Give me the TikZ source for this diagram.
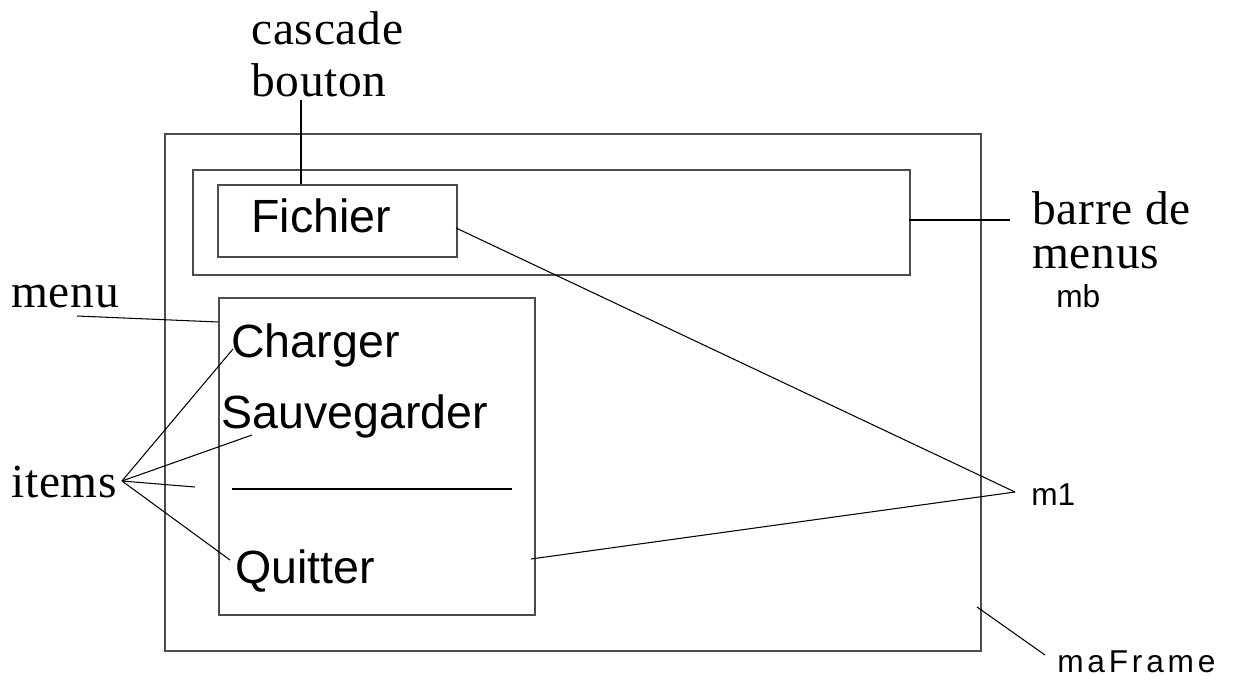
\documentclass[tikz,border=0pt]{standalone}
\usepackage{fontspec}
\setmainfont{Liberation Serif}[LetterSpace=1.5]
\setsansfont{Liberation Sans}
\newcommand{\px}{0.02cm}

\begin{document}
\begin{tikzpicture}[x=\px, y=-\px,
    rect/.style={draw=black!70, line width=0.9pt, rectangle, anchor=north west, inner sep=0pt},
    lbl/.style={font=\fontsize{27}{30}\selectfont\rmfamily, anchor=base west, inner sep=0pt},
    ui/.style={font=\fontsize{26.5}{30}\selectfont\sffamily, anchor=base west, inner sep=0pt},
    tag/.style={font=\fontsize{18}{22}\selectfont\sffamily, anchor=base west, inner sep=0pt},
    link/.style={draw=black, line width=0.6pt}]
    \useasboundingbox (0,0) rectangle (1233,682);

    % Boxes
    \node[rect, minimum width=816*\px, minimum height=517*\px] (frame) at (164,133) {};
    \node[rect, minimum width=717*\px, minimum height=105*\px] (bar) at (192,169) {};
    \node[rect, minimum width=239*\px, minimum height=72*\px] (fichier) at (217,184) {};
    \node[rect, minimum width=316*\px, minimum height=317*\px] (menubox) at (218,297) {};

    % Menu entries
    \node[ui] (txt-fichier) at (251,233) {Fichier};
    \node[ui] (txt-charger) at (231,357) {Charger};
    \node[ui] (txt-sauver) at (221,428) {Sauvegarder};
    \node[ui] (txt-quitter) at (235,583) {Quitter};
    \coordinate (sep-l) at (232,489);
    \coordinate (sep-r) at (512,489);
    \draw[link] (sep-l) -- (sep-r);

    % Labels
    \node[lbl] (lbl-cascade) at (251,45) {cascade};
    \node[lbl] (lbl-bouton) at (251,97) {bouton};
    \node[lbl] (lbl-barre) at (1032,224) {barre de};
    \node[lbl] (lbl-menus) at (1032,268) {menus};
    \node[tag] (lbl-mb) at (1056,307) {mb};
    \node[lbl] (lbl-menu) at (11,307) {menu};
    \node[lbl] (lbl-items) at (11,497) {items};
    \node[tag] (lbl-m1) at (1031,505) {m1};
    \node[tag, font=\fontsize{18}{22}\selectfont\sffamily\addfontfeatures{LetterSpace=12}] (lbl-maframe) at (1057,672) {maFrame};

    % Connector ends
    \coordinate (c-bouton) at (301,100);
    \coordinate (c-fichier-top) at (301,184);
    \coordinate (c-bar) at (909,220);
    \coordinate (c-barre) at (1010,220);
    \coordinate (c-menu) at (77,316);
    \coordinate (c-menubox) at (218,322);
    \coordinate (c-items) at (122,481);
    \coordinate (c-charger) at (233,349);
    \coordinate (c-sauver) at (252,435);
    \coordinate (c-sep) at (195,487);
    \coordinate (c-quitter) at (230,560);
    \coordinate (c-m1) at (1015,492);
    \coordinate (c-fichier) at (456,228);
    \coordinate (c-menubox-r) at (531,559);
    \coordinate (c-frame) at (977,607);
    \coordinate (c-maframe) at (1045,655);

    % Connectors
    \draw[link] (c-bouton) -- (c-fichier-top);
    \draw[link] (c-bar) -- (c-barre);
    \draw[link] (c-menu) -- (c-menubox);
    \draw[link] (c-items) -- (c-charger);
    \draw[link] (c-items) -- (c-sauver);
    \draw[link] (c-items) -- (c-sep);
    \draw[link] (c-items) -- (c-quitter);
    \draw[link] (c-fichier) -- (c-m1);
    \draw[link] (c-menubox-r) -- (c-m1);
    \draw[link] (c-frame) -- (c-maframe);

\end{tikzpicture}
\end{document}
